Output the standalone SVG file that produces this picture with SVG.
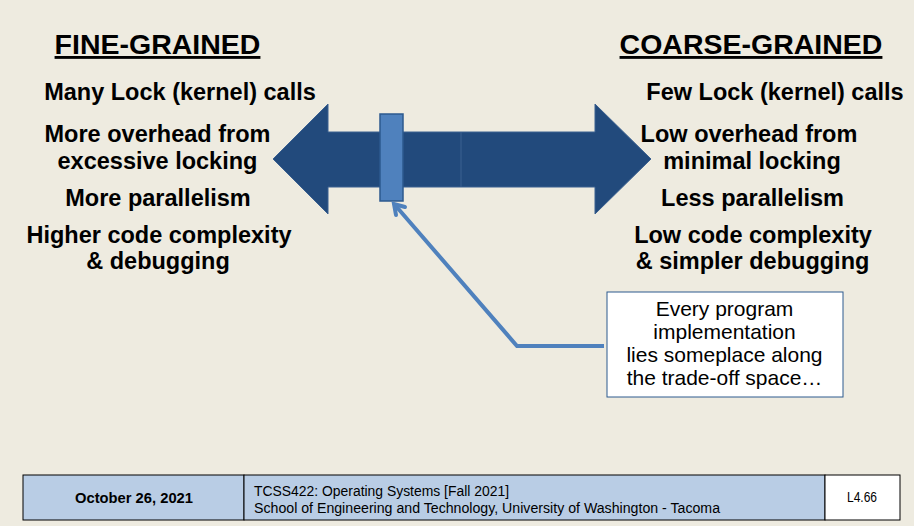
<svg xmlns="http://www.w3.org/2000/svg" width="914" height="526" viewBox="0 0 914 526">
<defs>
<style>
.h{font-family:"Liberation Sans",Arial,sans-serif;font-weight:bold;font-size:28.5px;text-anchor:middle;text-decoration:underline;fill:#000}
.b{font-family:"Liberation Sans",Arial,sans-serif;font-weight:bold;font-size:23.5px;text-anchor:middle;fill:#000}
.n{font-family:"Liberation Sans",Arial,sans-serif;font-size:21px;text-anchor:middle;fill:#000}
.f{font-family:"Liberation Sans",Arial,sans-serif;font-size:14px;fill:#000}
.conn{fill:none;stroke:#4f81bd;stroke-width:4;stroke-linejoin:miter}
</style>
</defs>
<rect width="914" height="526" fill="#eeebe0"/>
<g id="fine">
<text class="h" x="157.5" y="54">FINE-GRAINED</text>
<text class="b" x="180" y="100">Many Lock (kernel) calls</text>
<text class="b" x="157.5" y="142">More overhead from</text>
<text class="b" x="157.5" y="169">excessive locking</text>
<text class="b" x="158" y="206">More parallelism</text>
<text class="b" x="159" y="243">Higher code complexity</text>
<text class="b" x="158" y="269">&amp; debugging</text>
</g>
<g id="coarse">
<text class="h" x="751" y="54">COARSE-GRAINED</text>
<text class="b" x="775" y="100">Few Lock (kernel) calls</text>
<text class="b" x="749" y="142">Low overhead from</text>
<text class="b" x="752" y="169">minimal locking</text>
<text class="b" x="752.5" y="206">Less parallelism</text>
<text class="b" x="753" y="243">Low code complexity</text>
<text class="b" x="752.5" y="269">&amp; simpler debugging</text>
</g>
<g id="spectrum">
<polygon points="273,159 328,104 328,132 595,132 595,104 651,159 595,214 595,187 328,187 328,214" fill="#224a7c" stroke="#3a6090" stroke-width="1"/>
<line x1="461" y1="132" x2="461" y2="187" stroke="#3a6090" stroke-width="1"/>
</g>
<g id="slider">
<rect x="380" y="114" width="23" height="87" fill="#4f81bd" stroke="#2c5a8e" stroke-width="1.5"/>
</g>
<g id="connectors">
<polyline class="conn" points="604,346 517,346 395,205"/>
<polyline class="conn" points="396,215 394,204 405,207" stroke-linecap="round"/>
</g>
<g id="note">
<rect x="607" y="292" width="236" height="105" fill="#ffffff" stroke="#2c5a8e" stroke-width="1"/>
<text class="n" x="724.5" y="316">Every program</text>
<text class="n" x="724.5" y="339">implementation</text>
<text class="n" x="724.5" y="362">lies someplace along</text>
<text class="n" x="724.5" y="385">the trade-off space…</text>
</g>
<g id="footer">
<rect x="23" y="475" width="221" height="45" fill="#b9cde5" stroke="#000" stroke-width="1"/>
<rect x="244" y="475" width="581" height="45" fill="#b9cde5" stroke="#000" stroke-width="1"/>
<rect x="825" y="475" width="75" height="45" fill="#ffffff" stroke="#000" stroke-width="1"/>
<text class="f" x="75" y="503" font-weight="bold" textLength="118" lengthAdjust="spacingAndGlyphs">October 26, 2021</text>
<text class="f" x="254" y="496" textLength="255" lengthAdjust="spacingAndGlyphs">TCSS422: Operating Systems [Fall 2021]</text>
<text class="f" x="254" y="513" textLength="466" lengthAdjust="spacingAndGlyphs">School of Engineering and Technology, University of Washington - Tacoma</text>
<text class="f" x="847" y="502" font-size="13" textLength="30" lengthAdjust="spacingAndGlyphs">L4.66</text>
</g>
</svg>
